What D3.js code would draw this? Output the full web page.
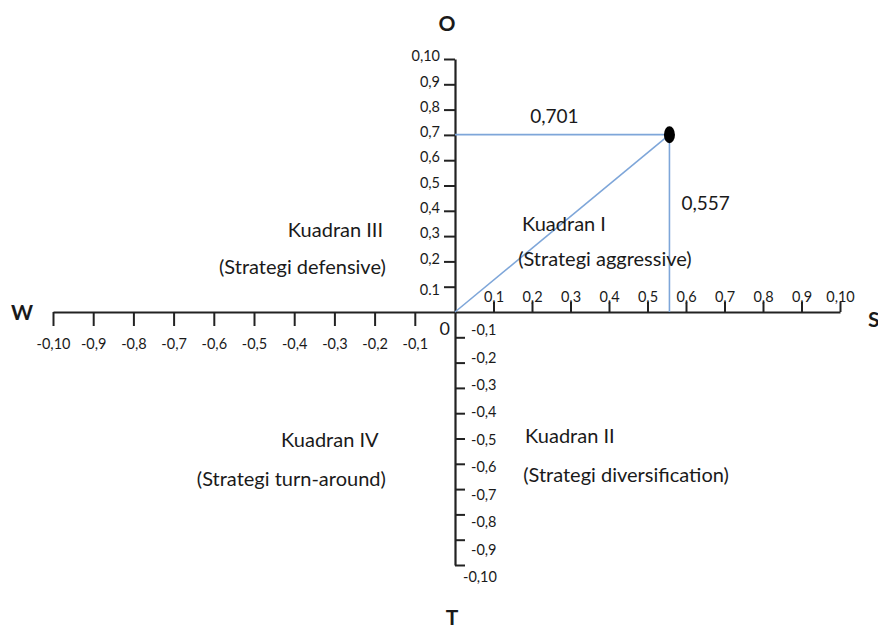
<!DOCTYPE html>
<html><head><meta charset="utf-8">
<script src="https://cdn.jsdelivr.net/npm/d3@7"></script>
<style>body{margin:0;background:#fff}svg{display:block}text{font-family:Lato,"Open Sans",sans-serif;fill:#1a1a1a}</style>
</head><body>
<script>
// ---- data ----
const posTicks = [0.1,0.2,0.3,0.4,0.5,0.6,0.7,0.8,0.9,1.0];
const negTicks = [-0.1,-0.2,-0.3,-0.4,-0.5,-0.6,-0.7,-0.8,-0.9,-1.0];
const xPosLabels = ["0,1","0,2","0,3","0,4","0,5","0,6","0,7","0,8","0,9","0,10"];
const xNegLabels = ["-0,1","-0,2","-0,3","-0,4","-0,5","-0,6","-0,7","-0,8","-0,9","-0,10"];
const yPosLabels = ["0.1","0,2","0,3","0,4","0,5","0,6","0,7","0,8","0,9","0,10"];
const yNegLabels = ["-0,1","-0,2","-0,3","-0,4","-0,5","-0,6","-0,7","-0,8","-0,9","-0,10"];
const pointX = [0.557];
const pointY = [0.701];
const pointXLabel = ["0,557"];
const pointYLabel = ["0,701"];
const axisNames = ["O","S","T","W"];
const quadNames = ["Kuadran I","Kuadran II","Kuadran III","Kuadran IV"];
const quadStrats = ["(Strategi aggressive)","(Strategi diversification)","(Strategi defensive)","(Strategi turn-around)"];

const W = 878, H = 625;
const svg = d3.select("body").append("svg").attr("width",W).attr("height",H);

const xR = d3.scaleLinear().domain([0,1]).range([455,840]);
const xL = d3.scaleLinear().domain([-1,0]).range([53,455]);
const yU = d3.scaleLinear().domain([0,1]).range([312,59]);
const yD = d3.scaleLinear().domain([-1,0]).range([565,312]);
const yDLab = d3.scaleLinear().domain([-1,-0.1]).range([577,330]);
const xv = v => v >= 0 ? xR(v) : xL(v);
const yv = v => v >= 0 ? yU(v) : yD(v);

const axCol = "#222", blue = "#7ea6d9";
const tickFont = "14.5px";

const gXR = svg.append("g").attr("transform",`translate(0,${yv(0)})`)
  .call(d3.axisTop(xR).tickValues(posTicks).tickSize(10).tickSizeOuter(0).tickFormat((d,i)=>xPosLabels[i]));
const gXL = svg.append("g").attr("transform",`translate(0,${yv(0)})`)
  .call(d3.axisBottom(xL).tickValues(negTicks).tickSize(14).tickSizeOuter(0).tickFormat((d,i)=>xNegLabels[i]));
const gYU = svg.append("g").attr("transform",`translate(${xv(0)},0)`)
  .call(d3.axisLeft(yU).tickValues(posTicks).tickSize(11).tickSizeOuter(0).tickFormat((d,i)=>yPosLabels[i]));
const gYD = svg.append("g").attr("transform",`translate(${xv(0)},0)`)
  .call(d3.axisRight(yD).tickValues(negTicks).tickSize(10).tickSizeOuter(0).tickFormat(""));

[gXR,gXL,gYU,gYD].forEach(g=>{
  g.selectAll(".domain").attr("stroke",axCol).attr("stroke-width",2.2);
  g.selectAll(".tick line").attr("stroke",axCol).attr("stroke-width",2);
  g.selectAll(".tick text").style("font-size",tickFont).style("font-family","Lato, sans-serif").attr("fill","#1a1a1a");
});
gXR.selectAll(".tick text").attr("y",-10);
gXL.selectAll(".tick text").attr("y",27);
gYU.selectAll(".tick text").attr("x",-15).attr("dy","0.12em");
gYU.selectAll(".tick text").filter(d=>d===0.1).attr("dy","0.55em");

svg.append("g").selectAll("text").data(negTicks).join("text")
  .attr("x", (d,i)=> xv(0) + (i===9 ? 8 : 16))
  .attr("y", d=>yDLab(d)).attr("dy","0.35em")
  .style("font-size",tickFont).text((d,i)=>yNegLabels[i]);

svg.append("text").attr("x",xv(0)-5).attr("y",yv(0)+23).attr("text-anchor","end")
  .style("font-size","18px").text("0");

function bigText(x,y,t,anchor){
  svg.append("text").attr("x",x).attr("y",y).attr("text-anchor",anchor||"middle")
    .style("font-size","21px").style("font-weight","bold").text(t);
}
bigText(xv(0)-8, yU(1)-28, axisNames[0]);
bigText(xR(1)+28, yv(0)+15, axisNames[1], "start");
bigText(xv(0)-3, yD(-1)+60, axisNames[2]);
bigText(xL(-1)-31, yv(0)+8, axisNames[3]);

const px = xv(pointX[0]), py = yv(pointY[0]);
const lines = svg.append("g").attr("stroke",blue).attr("stroke-width",1.6).attr("fill","none");
lines.append("line").attr("x1",xv(0)).attr("y1",py).attr("x2",px).attr("y2",py);
lines.append("line").attr("x1",px).attr("y1",py).attr("x2",px).attr("y2",yv(0));
lines.append("line").attr("x1",xv(0)).attr("y1",yv(0)).attr("x2",px).attr("y2",py);

svg.append("ellipse").attr("cx",px).attr("cy",py).attr("rx",5.5).attr("ry",8.5).attr("fill","#000");

svg.append("text").attr("x",xv(0.258)).attr("y",py-12).attr("text-anchor","middle")
  .style("font-size","19px").text(pointYLabel[0]);
svg.append("text").attr("x",px+12).attr("y",yv(0.405)).attr("text-anchor","start")
  .style("font-size","19px").text(pointXLabel[0]);

// quadrant label positions (annotation layout)
const quadPos = [
  {x1:xR(0.174),  y1:yU(0.32),   x2:xR(0.164),  y2:yU(0.182),  a:"start"},
  {x1:xR(0.182),  y1:yD(-0.518), x2:xR(0.177),  y2:yD(-0.672), a:"start"},
  {x1:xL(-0.179), y1:yU(0.296),  x2:xL(-0.172), y2:yU(0.15),   a:"end"},
  {x1:xL(-0.19),  y1:yD(-0.534), x2:xL(-0.172), y2:yD(-0.688), a:"end"}
];
quadNames.forEach((n,i)=>{
  const p = quadPos[i];
  svg.append("text").attr("x",p.x1).attr("y",p.y1).attr("text-anchor",p.a).style("font-size","20px").text(n);
  svg.append("text").attr("x",p.x2).attr("y",p.y2).attr("text-anchor",p.a).style("font-size","20px").text(quadStrats[i]);
});
</script>
</body></html>
